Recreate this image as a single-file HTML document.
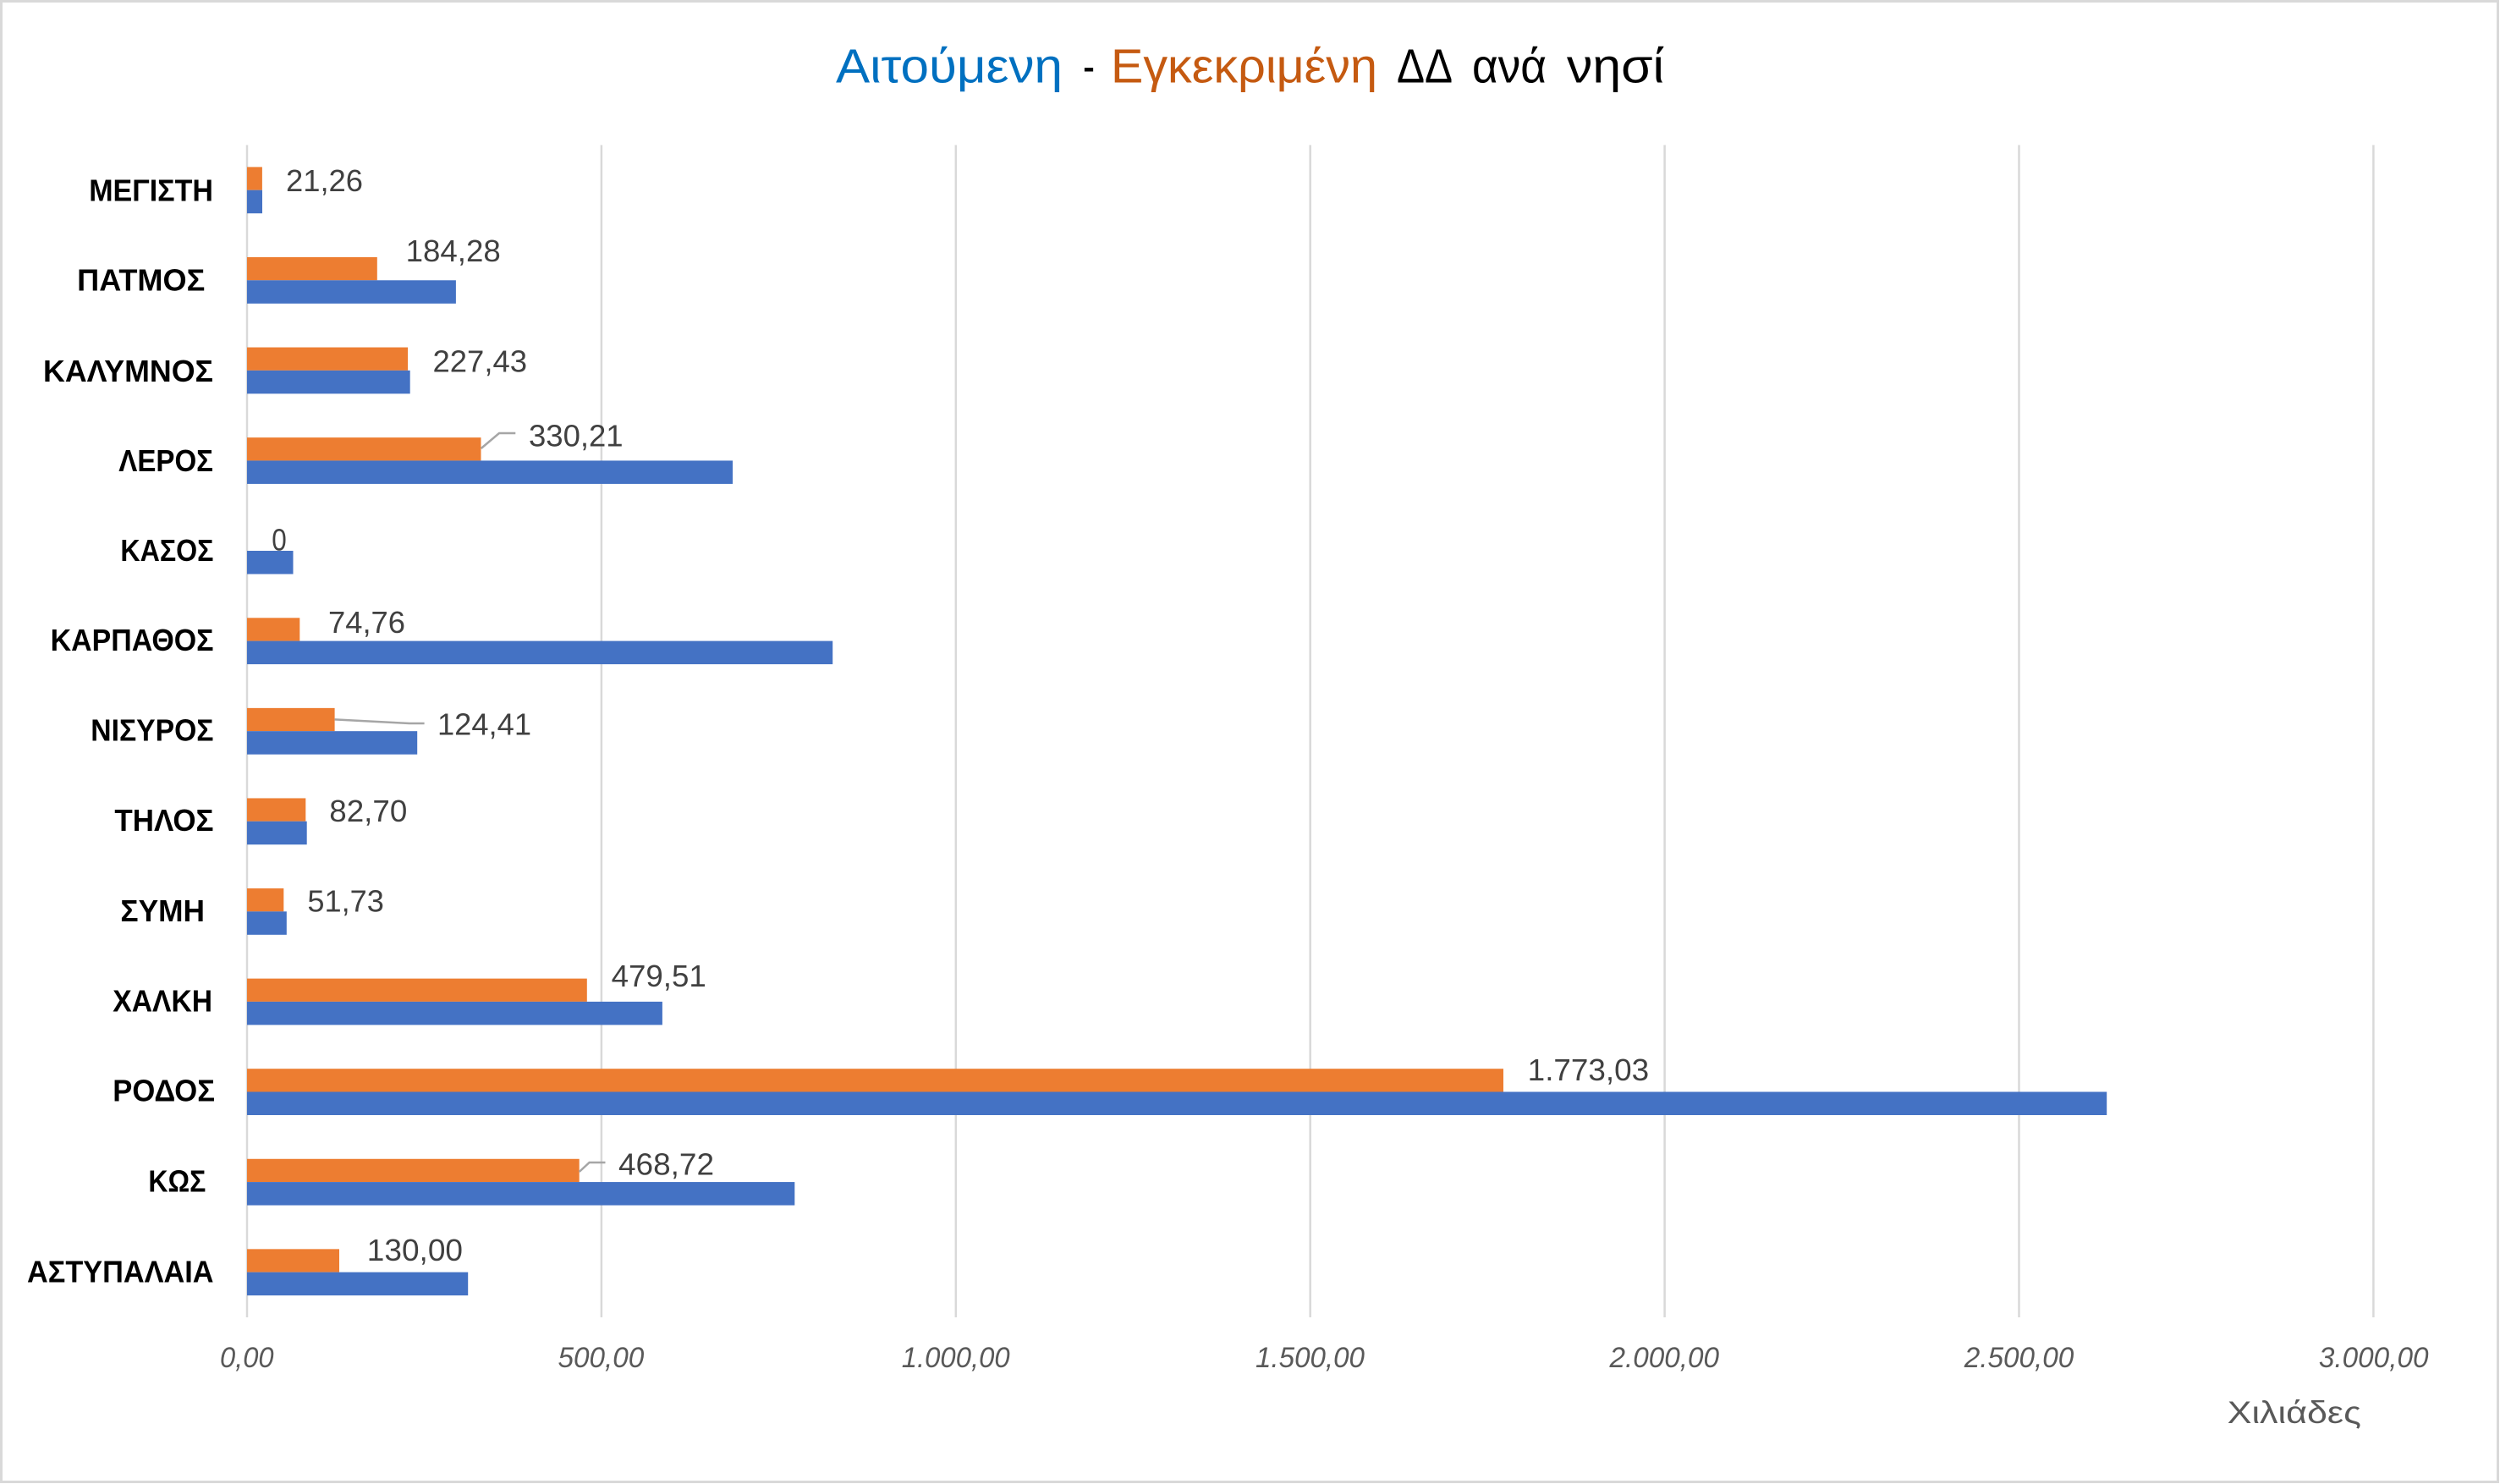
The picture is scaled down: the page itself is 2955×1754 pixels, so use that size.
<!DOCTYPE html>
<html>
<head>
<meta charset="utf-8">
<style>
  html, body { margin: 0; padding: 0; background: #ffffff; }
  svg { display: block; }
  .cat { font-family: "Liberation Sans", "Noto Sans CJK SC", sans-serif; font-weight: bold; font-size: 36px; fill: #000000; }
  .dl { font-family: "Liberation Sans", "Noto Sans CJK SC", sans-serif; font-size: 36px; fill: #404040; }
  .tick { font-family: "Liberation Sans", "Noto Sans CJK SC", sans-serif; font-style: italic; font-size: 34px; fill: #595959; }
  .title { font-family: "Liberation Sans", "Noto Sans CJK SC", sans-serif; font-size: 57px; }
</style>
</head>
<body>
<svg width="2955" height="1754" viewBox="0 0 2955 1754" xmlns="http://www.w3.org/2000/svg">
  <rect x="0" y="0" width="2955" height="1754" fill="#ffffff"/>
  <rect x="1.5" y="1.5" width="2951" height="2750" fill="none" stroke="#D9D9D9" stroke-width="3" style="display:none"/>
  <rect x="1.5" y="1.5" width="2951" height="1750" fill="none" stroke="#D9D9D9" stroke-width="3"/>

  <!-- Title -->
  <text class="title" x="988" y="97.7" textLength="268" lengthAdjust="spacingAndGlyphs" fill="#0070C0">Αιτούμενη</text>
  <text class="title" x="1280" y="97.7" textLength="14" lengthAdjust="spacingAndGlyphs" fill="#000000">-</text>
  <text class="title" x="1313" y="97.7" textLength="315" lengthAdjust="spacingAndGlyphs" fill="#C55A11">Εγκεκριμένη</text>
  <text class="title" x="1651" y="97.7" textLength="66" lengthAdjust="spacingAndGlyphs" fill="#000000">ΔΔ</text>
  <text class="title" x="1740" y="97.7" textLength="88" lengthAdjust="spacingAndGlyphs" fill="#000000">ανά</text>
  <text class="title" x="1852" y="97.7" textLength="115" lengthAdjust="spacingAndGlyphs" fill="#000000">νησί</text>

  <!-- Gridlines -->
  <g stroke="#D9D9D9" stroke-width="2.5">
    <line x1="292" y1="171.4" x2="292" y2="1557"/>
    <line x1="710.9" y1="171.4" x2="710.9" y2="1557"/>
    <line x1="1129.8" y1="171.4" x2="1129.8" y2="1557"/>
    <line x1="1548.7" y1="171.4" x2="1548.7" y2="1557"/>
    <line x1="1967.6" y1="171.4" x2="1967.6" y2="1557"/>
    <line x1="2386.5" y1="171.4" x2="2386.5" y2="1557"/>
    <line x1="2805.4" y1="171.4" x2="2805.4" y2="1557"/>
  </g>

  <!-- Bars: orange (approved) on top, blue (requested) below -->
  <g fill="#ED7D31">
    <rect x="292" y="197.39" width="17.9" height="27.3"/>
    <rect x="292" y="303.97" width="153.8" height="27.3"/>
    <rect x="292" y="410.55" width="190.1" height="27.3"/>
    <rect x="292" y="517.13" width="276.5" height="27.3"/>
    <rect x="292" y="730.29" width="62.3" height="27.3"/>
    <rect x="292" y="836.87" width="103.6" height="27.3"/>
    <rect x="292" y="943.45" width="69.3" height="27.3"/>
    <rect x="292" y="1050.03" width="43.3" height="27.3"/>
    <rect x="292" y="1156.61" width="401.8" height="27.3"/>
    <rect x="292" y="1263.19" width="1485" height="27.3"/>
    <rect x="292" y="1369.77" width="392.7" height="27.3"/>
    <rect x="292" y="1476.35" width="109" height="27.3"/>
  </g>
  <g fill="#4472C4">
    <rect x="292" y="224.69" width="18" height="27.5"/>
    <rect x="292" y="331.27" width="246.9" height="27.5"/>
    <rect x="292" y="437.85" width="192.7" height="27.5"/>
    <rect x="292" y="544.43" width="574" height="27.5"/>
    <rect x="292" y="651.01" width="54.5" height="27.5"/>
    <rect x="292" y="757.59" width="692.2" height="27.5"/>
    <rect x="292" y="864.17" width="201.2" height="27.5"/>
    <rect x="292" y="970.75" width="70.7" height="27.5"/>
    <rect x="292" y="1077.33" width="46.8" height="27.5"/>
    <rect x="292" y="1183.91" width="490.9" height="27.5"/>
    <rect x="292" y="1290.49" width="2198.2" height="27.5"/>
    <rect x="292" y="1397.07" width="647.3" height="27.5"/>
    <rect x="292" y="1503.65" width="261.2" height="27.5"/>
  </g>

  <!-- Category labels -->
  <text class="cat" x="105.2" y="237.3" textLength="146.8" lengthAdjust="spacingAndGlyphs">ΜΕΓΙΣΤΗ</text>
  <text class="cat" x="91.2" y="343.7" textLength="151.1" lengthAdjust="spacingAndGlyphs">ΠΑΤΜΟΣ</text>
  <text class="cat" x="51" y="450.8" textLength="201" lengthAdjust="spacingAndGlyphs">ΚΑΛΥΜΝΟΣ</text>
  <text class="cat" x="140.3" y="556.8" textLength="111.7" lengthAdjust="spacingAndGlyphs">ΛΕΡΟΣ</text>
  <text class="cat" x="142.4" y="662.9" textLength="110.1" lengthAdjust="spacingAndGlyphs">ΚΑΣΟΣ</text>
  <text class="cat" x="59.6" y="769" textLength="192.9" lengthAdjust="spacingAndGlyphs">ΚΑΡΠΑΘΟΣ</text>
  <text class="cat" x="107.3" y="875.7" textLength="145.2" lengthAdjust="spacingAndGlyphs">ΝΙΣΥΡΟΣ</text>
  <text class="cat" x="135.4" y="982.1" textLength="117.1" lengthAdjust="spacingAndGlyphs">ΤΗΛΟΣ</text>
  <text class="cat" x="142.4" y="1089" textLength="99.6" lengthAdjust="spacingAndGlyphs">ΣΥΜΗ</text>
  <text class="cat" x="133.3" y="1195.7" textLength="117.8" lengthAdjust="spacingAndGlyphs">ΧΑΛΚΗ</text>
  <text class="cat" x="133.3" y="1301.7" textLength="120.7" lengthAdjust="spacingAndGlyphs">ΡΟΔΟΣ</text>
  <text class="cat" x="175.4" y="1408.3" textLength="68" lengthAdjust="spacingAndGlyphs">ΚΩΣ</text>
  <text class="cat" x="32" y="1515.7" textLength="220.5" lengthAdjust="spacingAndGlyphs">ΑΣΤΥΠΑΛΑΙΑ</text>

  <!-- Leader lines -->
  <g fill="none" stroke="#A6A6A6" stroke-width="2.5">
    <polyline points="568.7,530 590,512 609.3,512"/>
    <polyline points="395.6,850.4 484,855 501.6,855"/>
    <polyline points="684.7,1385 696.6,1374 715.5,1374"/>
  </g>

  <!-- Data labels -->
  <text class="dl" x="338" y="225.8" textLength="91" lengthAdjust="spacingAndGlyphs">21,26</text>
  <text class="dl" x="479.6" y="309.2" textLength="112.2" lengthAdjust="spacingAndGlyphs">184,28</text>
  <text class="dl" x="511.5" y="439.3" textLength="111.5" lengthAdjust="spacingAndGlyphs">227,43</text>
  <text class="dl" x="625" y="527.4" textLength="111.6" lengthAdjust="spacingAndGlyphs">330,21</text>
  <text class="dl" x="321.3" y="650.7" textLength="17.5" lengthAdjust="spacingAndGlyphs">0</text>
  <text class="dl" x="388" y="748" textLength="91" lengthAdjust="spacingAndGlyphs">74,76</text>
  <text class="dl" x="517" y="868.6" textLength="111" lengthAdjust="spacingAndGlyphs">124,41</text>
  <text class="dl" x="389.3" y="971" textLength="92" lengthAdjust="spacingAndGlyphs">82,70</text>
  <text class="dl" x="363.4" y="1077.5" textLength="90.5" lengthAdjust="spacingAndGlyphs">51,73</text>
  <text class="dl" x="722.6" y="1166" textLength="112.2" lengthAdjust="spacingAndGlyphs">479,51</text>
  <text class="dl" x="1805.7" y="1277" textLength="143.5" lengthAdjust="spacingAndGlyphs">1.773,03</text>
  <text class="dl" x="731" y="1388.3" textLength="113" lengthAdjust="spacingAndGlyphs">468,72</text>
  <text class="dl" x="433.8" y="1490" textLength="113.2" lengthAdjust="spacingAndGlyphs">130,00</text>

  <!-- Axis tick labels -->
  <text class="tick" x="260" y="1616" textLength="63.6" lengthAdjust="spacingAndGlyphs">0,00</text>
  <text class="tick" x="659.5" y="1616" textLength="101.8" lengthAdjust="spacingAndGlyphs">500,00</text>
  <text class="tick" x="1065.8" y="1616" textLength="127.8" lengthAdjust="spacingAndGlyphs">1.000,00</text>
  <text class="tick" x="1484" y="1616" textLength="129" lengthAdjust="spacingAndGlyphs">1.500,00</text>
  <text class="tick" x="1902.5" y="1616" textLength="129.5" lengthAdjust="spacingAndGlyphs">2.000,00</text>
  <text class="tick" x="2321.7" y="1616" textLength="129.6" lengthAdjust="spacingAndGlyphs">2.500,00</text>
  <text class="tick" x="2740.9" y="1616" textLength="129.6" lengthAdjust="spacingAndGlyphs">3.000,00</text>

  <!-- Display units label -->
  <text x="2632.8" y="1682" textLength="158" lengthAdjust="spacingAndGlyphs" style="font-family: 'Liberation Sans', 'Noto Sans CJK SC', sans-serif; font-size: 37px; fill: #595959;">Χιλιάδες</text>
</svg>
</body>
</html>
